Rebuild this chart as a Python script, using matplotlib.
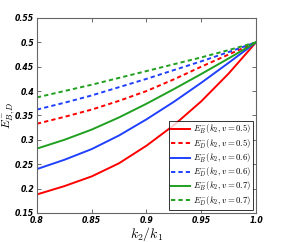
import matplotlib
matplotlib.use("Agg")
import matplotlib.pyplot as plt

plt.rcParams["mathtext.fontset"] = "cm"

x = [0.8, 0.825, 0.85, 0.875, 0.9, 0.925, 0.95, 0.975, 1.0]
eb_05 = [0.188, 0.205, 0.225, 0.252, 0.288, 0.330, 0.379, 0.436, 0.5]
ed_05 = [0.333, 0.347, 0.362, 0.380, 0.400, 0.424, 0.450, 0.475, 0.5]
eb_06 = [0.240, 0.259, 0.281, 0.309, 0.342, 0.378, 0.417, 0.458, 0.5]
ed_06 = [0.362, 0.376, 0.391, 0.408, 0.425, 0.443, 0.461, 0.480, 0.5]
eb_07 = [0.282, 0.300, 0.321, 0.346, 0.374, 0.404, 0.435, 0.467, 0.5]
ed_07 = [0.387, 0.400, 0.413, 0.427, 0.441, 0.455, 0.469, 0.484, 0.5]

xticks = [0.8, 0.85, 0.9, 0.95, 1.0]
xticklabels = ["0.8", "0.85", "0.9", "0.95", "1.0"]
yticks = [0.15, 0.2, 0.25, 0.3, 0.35, 0.4, 0.45, 0.5, 0.55]
yticklabels = ["0.15", "0.2", "0.25", "0.3", "0.35", "0.4", "0.45", "0.5", "0.55"]

red, blue, green = "#ff0000", "#2040ff", "#20a020"
dash = (0, (2.2, 1.6))

fig = plt.figure(figsize=(2.82, 2.42), dpi=100)
ax = fig.add_axes([0.131, 0.12, 0.777, 0.806])

series = [
    (eb_05, red, "-", r"$E_B^{-}(k_2,v=0.5)$"),
    (ed_05, red, dash, r"$E_D^{-}(k_2,v=0.5)$"),
    (eb_06, blue, "-", r"$E_B^{-}(k_2,v=0.6)$"),
    (ed_06, blue, dash, r"$E_D^{-}(k_2,v=0.6)$"),
    (eb_07, green, "-", r"$E_B^{-}(k_2,v=0.7)$"),
    (ed_07, green, dash, r"$E_D^{-}(k_2,v=0.7)$"),
]
for ys, c, ls, lab in series:
    ax.plot(x, ys, color=c, linestyle=ls, linewidth=1.4, label=lab)

ax.set_xlim(0.8, 1.0)
ax.set_ylim(0.15, 0.55)
ax.set_xticks(xticks)
ax.set_xticklabels(xticklabels)
ax.set_yticks(yticks)
ax.set_yticklabels(yticklabels)
for lbl in ax.get_xticklabels() + ax.get_yticklabels():
    lbl.set_fontsize(5.6)
    lbl.set_fontweight("bold")
    lbl.set_fontstyle("italic")
ax.tick_params(direction="in", length=3, width=0.6, pad=2, top=True, right=True, color="#555555")
for s in ax.spines.values():
    s.set_color("#666666")
    s.set_linewidth(0.8)

ax.set_xlabel(r"$k_2/k_1$", fontsize=10)
ax.xaxis.set_label_coords(0.5, -0.062)
ax.set_ylabel(r"$E_{B,D}^{-}$", fontsize=8.6)
ax.yaxis.set_label_coords(-0.091, 0.5)

leg = ax.legend(loc="lower right", fontsize=6.3, frameon=True, fancybox=False,
                edgecolor="black", handlelength=2.2, handletextpad=0.3,
                labelspacing=0.12, borderpad=0.25, borderaxespad=0.35)
leg.get_frame().set_linewidth(0.7)

fig.savefig("out.png", dpi=100)
